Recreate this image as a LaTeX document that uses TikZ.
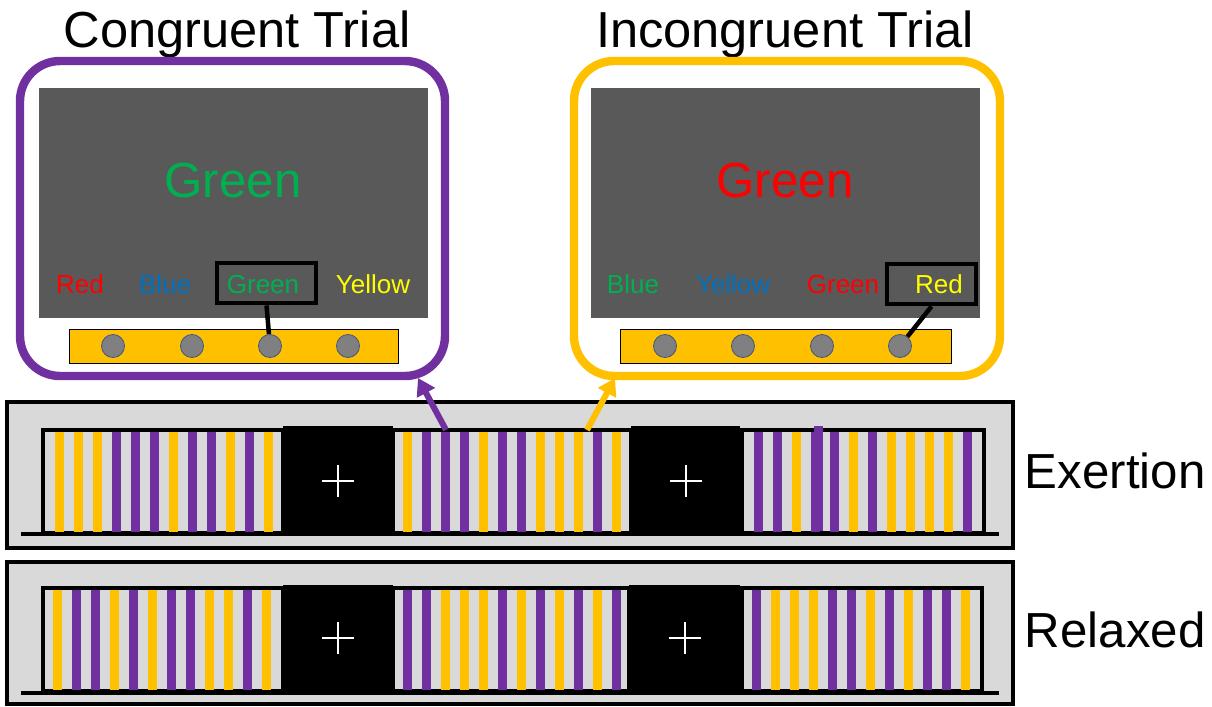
\documentclass[tikz,border=0pt]{standalone}
\usepackage{fontspec}
\setmainfont{Liberation Sans}
\usetikzlibrary{arrows.meta}

\definecolor{trialpurple}{HTML}{7030A0}
\definecolor{trialyellow}{HTML}{FFC000}
\definecolor{bggray}{HTML}{D9D9D9}
\definecolor{screengray}{HTML}{595959}
\definecolor{btngray}{HTML}{808080}
\definecolor{btnedge}{HTML}{42587E}
\definecolor{wordred}{HTML}{FF0000}
\definecolor{wordblue}{HTML}{0070C0}
\definecolor{wordgreen}{HTML}{00B050}
\definecolor{wordyellow}{HTML}{FFFF00}
\colorlet{stP}{trialpurple}
\colorlet{stY}{trialyellow}

% one block of trials: first stripe x, top y, colours
\newcommand{\stripeblock}[3]{%
  \foreach \c [count=\i from 0] in {#3}
    \fill [\c] ({#1+19*\i-4.5}, #2) rectangle ++(9,100);
}

\begin{document}
\begin{tikzpicture}[x=0.025cm, y=-0.025cm,
    panel/.style={line width=6pt, rounded corners=1cm},
    screen/.style={fill=screengray},
    bar/.style={fill=trialyellow, draw=black, line width=0.7pt},
    btn/.style={circle, fill=btngray, draw=btnedge, line width=0.6pt, minimum size=0.575cm, inner sep=0pt},
    pickbox/.style={draw=black, line width=3.4pt, minimum width=#1, minimum height=1cm, inner sep=0pt},
    pickline/.style={black, line width=3.2pt},
    word/.style={font=\fontsize{18.5}{20}\selectfont, anchor=base},
    bigword/.style={font=\fontsize{35}{40}\selectfont, anchor=base},
    title/.style={font=\fontsize{36}{40}\selectfont, anchor=base},
    rowlabel/.style={font=\fontsize{35}{40}\selectfont, anchor=base west},
    outerbox/.style={fill=bggray, draw=black, line width=2.8pt},
    blockbox/.style={fill=bggray, draw=black, line width=2.4pt},
    fixbox/.style={fill=black},
    fixcross/.style={white, line width=1pt},
    floorline/.style={black, line width=2.8pt},
    cue/.style={line width=4.3pt, -{Triangle[width=14pt,length=12pt]}}]
  \useasboundingbox (0,0) rectangle (1212,706);

  % congruent trial
  \node [title] (congtitle) at (237,47) {Congruent Trial};
  \draw [panel, trialpurple] (20,61) rectangle (445,376);
  \fill [screen] (39,88) rectangle (428,318);
  \node [bigword, wordgreen] (congword) at (233,197) {Green};
  \node [pickbox=2.475cm] (pickc) at (266.5,283) {};
  \node [word, wordred] (cw1) at (80,293) {Red};
  \node [word, wordblue] (cw2) at (165,293) {Blue};
  \node [word, wordgreen] (cw3) at (263,293) {Green};
  \node [word, wordyellow] (cw4) at (373,293) {Yellow};
  \draw [bar] (69,329) rectangle (398,363);
  \foreach \x [count=\i] in {113,192,270,348}
    \node [btn] (cb\i) at (\x,346) {};
  \draw [pickline] (pickc.south) -- (cb3);

  % incongruent trial
  \node [title] (inctitle) at (785,47) {Incongruent Trial};
  \draw [panel, trialyellow] (574,61) rectangle (1000,376);
  \fill [screen] (591,88) rectangle (980,318);
  \node [bigword, wordred] (incword) at (785,197) {Green};
  \node [pickbox=2.225cm] (picki) at (931.5,284) {};
  \node [word, wordgreen] (iw1) at (633,293) {Blue};
  \node [word, wordblue] (iw2) at (733,293) {Yellow};
  \node [word, wordred] (iw3) at (843,293) {Green};
  \node [word, wordyellow] (iw4) at (939,293) {Red};
  \draw [bar] (620,329) rectangle (951,363);
  \foreach \x [count=\i] in {665,743,822,900}
    \node [btn] (ib\i) at (\x,346) {};
  \draw [pickline] (picki.south) -- (ib4);

  % exertion row
  \draw [outerbox] (7,402) rectangle (1013,548);
  \draw [blockbox] (43,430) rectangle (283,533);
  \draw [blockbox] (393,430) rectangle (631,533);
  \draw [blockbox] (742,430) rectangle (984,533);
  \stripeblock{59}{432}{stY,stY,stY,stP,stP,stP,stY,stP,stP,stY,stP,stY}
  \stripeblock{407}{432}{stY,stP,stP,stP,stY,stP,stP,stY,stY,stY,stP,stY}
  \stripeblock{758}{432}{stP,stP,stY,stP,stP,stY,stP,stY,stY,stY,stY,stP}
  \fill [stP] (813.5,426) rectangle (822.5,531);
  \fill [fixbox] (283,426) rectangle (393,536);
  \fill [fixbox] (631,426) rectangle (740,536);
  \draw [floorline] (21,534) -- (999,534);
  \draw [fixcross] (338,465) -- (338,497) (322,481) -- (354,481);
  \draw [fixcross] (686,465) -- (686,497) (670,481) -- (702,481);
  \node [rowlabel] (exertion) at (1020,488) {Exertion};

  % relaxed row
  \draw [outerbox] (7,562) rectangle (1013,704);
  \draw [blockbox] (43,588) rectangle (283,691);
  \draw [blockbox] (393,588) rectangle (629,691);
  \draw [blockbox] (742,588) rectangle (982,691);
  \stripeblock{57}{590}{stY,stP,stP,stY,stP,stY,stP,stP,stY,stY,stP,stY}
  \stripeblock{407}{590}{stP,stP,stY,stY,stY,stP,stY,stP,stY,stP,stY,stP}
  \stripeblock{756}{590}{stP,stY,stY,stY,stP,stP,stY,stP,stY,stP,stP,stY}
  \fill [fixbox] (283,585) rectangle (393,694);
  \fill [fixbox] (629,585) rectangle (740,694);
  \draw [floorline] (21,693) -- (999,693);
  \draw [fixcross] (338,622) -- (338,654) (322,638) -- (354,638);
  \draw [fixcross] (685,622) -- (685,654) (669,638) -- (701,638);
  \node [rowlabel] (relaxed) at (1020,647) {Relaxed};

  % cues from single trials up to the panels
  \coordinate (congtrial) at (446,430);
  \coordinate (congcue) at (418,378);
  \coordinate (inctrial) at (587,430);
  \coordinate (inccue) at (615,378);
  \draw [cue, trialpurple] (congtrial) -- (congcue);
  \draw [cue, trialyellow] (inctrial) -- (inccue);
\end{tikzpicture}
\end{document}
